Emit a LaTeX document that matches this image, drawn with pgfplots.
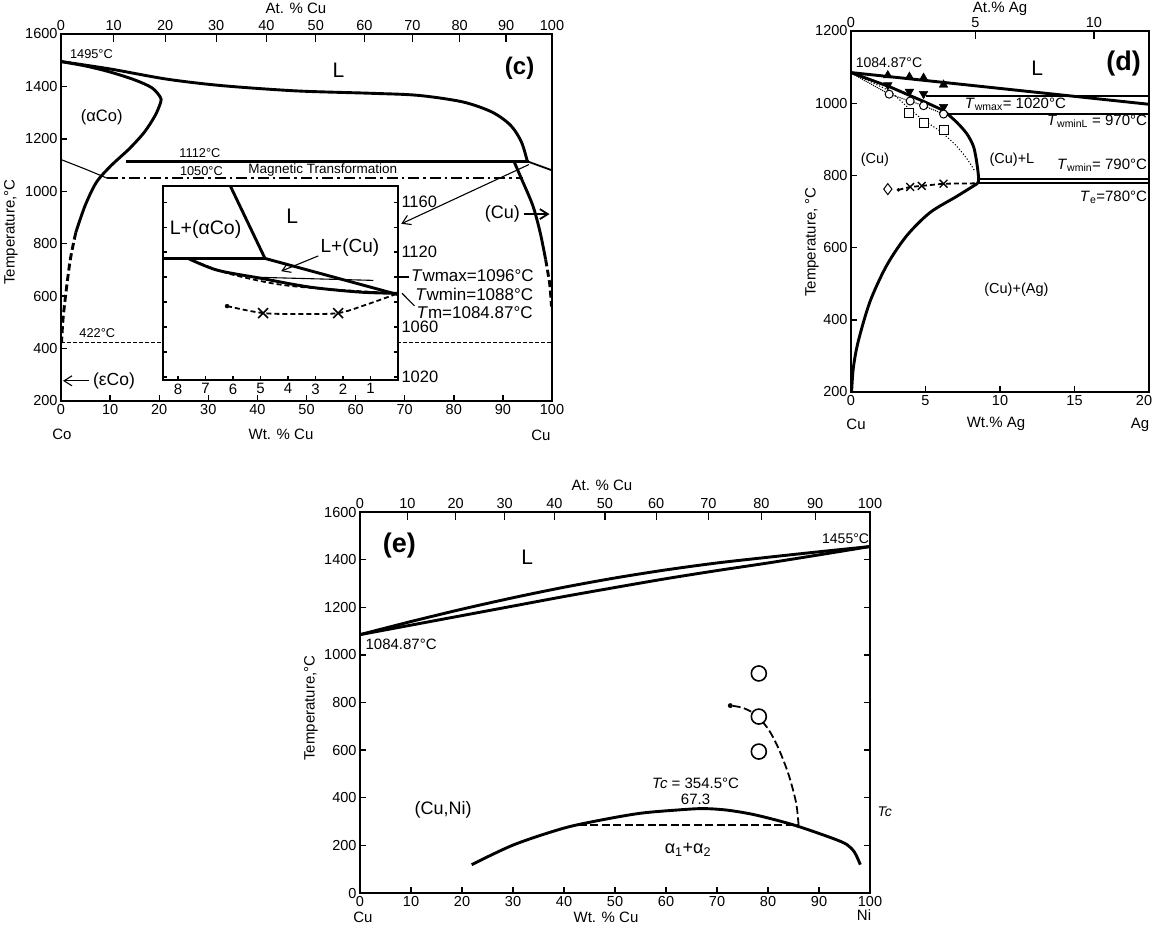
\documentclass[border=0pt]{standalone}
\usepackage{pgfplots}
\pgfplotsset{compat=1.18}
\usepackage{fontspec}
\setmainfont{Liberation Sans}
\usetikzlibrary{arrows.meta}
\newcommand\fs[1]{\fontsize{#1}{#1}\selectfont}

\pgfplotsset{
  phase/.style={
    scale only axis, anchor=south west, clip=false,
    axis line style={line width=2pt},
    tick style={black, line width=1.4pt},
    major tick length=6pt,
    tick align=inside,
    tick label style={font=\fs{14.5}},
    /pgf/number format/assume math mode=true,
    /pgf/number format/1000 sep={},
    xtick pos=bottom, ytick pos=left,
  },
  topscale/.style={
    scale only axis, anchor=south west, clip=false,
    axis x line*=top, hide y axis, ymin=0, ymax=1,
    axis line style={line width=2pt},
    tick style={black, line width=1.4pt},
    major tick length=8pt, tick align=inside,
    tick label style={font=\fs{14.5}},
  },
}
\tikzset{
  thk/.style={line width=2.9pt, line join=round},
  med/.style={line width=1.8pt},
  thn/.style={line width=1.1pt},
  dsh/.style={dash pattern=on 7pt off 3.5pt},
  sdsh/.style={dash pattern=on 5pt off 3pt},
  barb/.style={-{Straight Barb[length=8pt,width=10pt]}},
}

\begin{document}
\begin{tikzpicture}
\useasboundingbox (0pt,0pt) rectangle (1154pt,-932pt);

% ---------------- panel (c): Co-Cu ----------------
\begin{axis}[phase, at={(61pt,-401pt)}, width=491pt, height=367pt,
  xmin=0, xmax=100, ymin=200, ymax=1600,
  xtick={0,10,...,100}, ytick={200,400,...,1600}]
  % liquidus
  \addplot[thk, smooth] coordinates {(0,1495)(10.2,1466)(21.5,1428)(32.8,1403)(47.9,1383)(62.9,1374)(72.7,1366)(81.8,1341)(87.8,1302)(91.6,1251)(93.8,1187)(95.0,1112)};
  % (aCo) boundary
  \addplot[thk, smooth] coordinates {(0,1495)(5,1478)(10,1455)(15,1425)(18.5,1395)(20.2,1360)(20.3,1340)(19.2,1290)(17.0,1226)(13.9,1162)(10.2,1098)(7.2,1034)(4.9,945)(3.0,842)};
  \addplot[thk, dsh, smooth] coordinates {(3.0,842)(1.9,740)(1.0,613)(0.4,510)(0.1,421)};
  % magnetic line in (aCo)
  \addplot[thn, smooth] coordinates {(0,1121)(4.9,1085)(9.4,1050)};
  % peritectic
  \addplot[thk] coordinates {(13.2,1112)(95.3,1112)};
  \addplot[med] coordinates {(95.3,1112)(100,1080)};
  % (Cu) solvus
  \addplot[thk, smooth] coordinates {(92.3,1112)(93.8,1047)(96.1,945)(97.6,842)(98.7,740)};
  \addplot[thk, dsh, smooth] coordinates {(98.7,740)(99.5,651)(99.8,587)(99.9,560)};
  % magnetic transformation 1050
  \addplot[med, dash pattern=on 11pt off 4pt on 2.5pt off 4pt] coordinates {(9.4,1050)(94,1050)};
  % 422
  \addplot[thn, dash pattern=on 4pt off 2pt] coordinates {(0,422)(100,422)};
  \draw[thn, barb] (axis cs:5.7,277) -- (axis cs:0.4,277);
  \node[anchor=west, font=\fs{17.5}] at (axis cs:5.8,277) {(εCo)};
  \node[font=\fs{18}] at (axis cs:89.9,913) {(Cu)};
  \draw[med, barb] (axis cs:94.2,913) -- (axis cs:99.5,913);
  \draw[thn, barb] (axis cs:95.3,1102) -- (axis cs:69.3,876);
  \node[font=\fs{12.8}] at (axis cs:6.2,1522) {1495°C};
  \node[font=\fs{21}] at (axis cs:56.5,1462) {L};
  \node[font=\bfseries\fs{24}] at (axis cs:93.4,1468) {(c)};
  \node[font=\fs{16.5}] at (axis cs:8.3,1283) {(αCo)};
  \node[font=\fs{12.8}] at (axis cs:28.3,1146) {1112°C};
  \node[font=\fs{12.8}] at (axis cs:28.6,1078) {1050°C};
  \node[font=\fs{13.5}] at (axis cs:53.3,1080) {Magnetic Transformation};
  \node[font=\fs{12.8}] at (axis cs:7.4,460) {422°C};
\end{axis}
\begin{axis}[topscale, at={(61pt,-401pt)}, width=491pt, height=367pt,
  xmin=0, xmax=100,
  xtick={0,10.74,21.23,31.61,41.83,51.89,61.80,71.56,81.18,90.66,100},
  xticklabels={0,10,20,30,40,50,60,70,80,90,100}]
  \addplot[draw=none, forget plot] coordinates {(0,0)};
\end{axis}

% inset
\begin{axis}[phase, at={(163pt,-380pt)}, width=235pt, height=194pt,
  x dir=reverse, xmin=0, xmax=8.55, ymin=1017.6, ymax=1173,
  xtick={1,...,8}, ytick={1020,1040,...,1160},
  yticklabels={1020,,1060,,,1120,,1160},
  ytick pos=both, yticklabel pos=right, major tick length=4pt,
  axis background/.style={fill=white},
  yticklabel style={font=\fs{16.5}}, xticklabel style={font=\fs{15}}]
  \addplot[thk] coordinates {(6.1,1173)(4.84,1115)};
  \addplot[thk] coordinates {(8.55,1115)(4.84,1115)};
  \addplot[thk] coordinates {(4.84,1115)(0,1086)};
  \addplot[thk, smooth] coordinates {(7.64,1115)(6.58,1105.6)(5.02,1099.2)(3.2,1092)(1.38,1088)(0,1087)};
  \addplot[thn] coordinates {(5.3,1100)(0.9,1097.4)};
  \addplot[med, sdsh, smooth] coordinates {(7.49,1113.6)(6.22,1103.2)(4.4,1094.4)(2.58,1090.4)(0,1087)};
  \addplot[med, sdsh, smooth] coordinates {(6.22,1076.8)(4.91,1071.2)(3.5,1070.5)(2.18,1071.2)(1.2,1077.6)(0,1087)};
  \addplot[only marks, mark=*, mark size=2pt] coordinates {(6.22,1076.8)};
  \addplot[only marks, mark=x, mark size=7pt, line width=1.6pt] coordinates {(4.91,1071.2)(2.18,1071.2)};
  \node[font=\fs{21}] at (axis cs:3.85,1149) {L};
  \node[font=\fs{19.5}] at (axis cs:7.0,1138) {L+(αCo)};
  \node[font=\fs{19}] at (axis cs:1.75,1123.4) {L+(Cu)};
  \draw[thn, barb] (axis cs:2.9,1117) -- (axis cs:4.25,1104.8);
  \draw[med] (axis cs:-0.05,1100) -- (axis cs:-0.4,1100);
  \draw[thn] (axis cs:-0.15,1087) -- (axis cs:-0.6,1077);
  \node[anchor=west, font=\fs{17}] at (axis cs:-0.35,1101) {\textit{T}wmax=1096°C};
  \node[anchor=west, font=\fs{17}] at (axis cs:-0.5,1086.5) {\textit{T}wmin=1088°C};
  \node[anchor=west, font=\fs{17}] at (axis cs:-0.55,1071.5) {\textit{T}m=1084.87°C};
\end{axis}

% ---------------- panel (d): Cu-Ag ----------------
\begin{axis}[phase, at={(851pt,-392pt)}, width=298pt, height=361pt,
  xmin=0, xmax=20, ymin=200, ymax=1200,
  xtick={0,5,...,20}, xticklabels={0,5,10,15,\hspace*{-10pt}20},
  ytick={200,400,...,1200}]
  \addplot[thk] coordinates {(0,1084.87)(20,997)};
  \addplot[med] coordinates {(5.0,1020)(20,1020)};
  \addplot[med] coordinates {(6.2,970)(20,970)};
  \addplot[med] coordinates {(8.5,790)(20,790)};
  \addplot[med] coordinates {(8.5,780)(20,780)};
  \addplot[thk] coordinates {(0,1084.87)(2.62,1045)(4.87,1005)(6.21,980)};
  \addplot[thk, smooth] coordinates {(6.21,980)(7.1,947)(7.78,915)(8.23,879)(8.45,833)(8.57,790)(8.5,778)};
  \addplot[thk, smooth] coordinates {(8.5,778)(7.1,742)(5.3,697)(3.74,633)(2.4,551)(1.28,451)(0.49,341)(0.16,268)(0.04,200)};
  \addplot[thn, dotted, smooth] coordinates {(0,1084)(2.5,1035)(3.9,985)(4.9,952)(5.9,925)(7.0,885)(7.8,845)(8.3,812)};
  \addplot[thn, densely dotted] coordinates {(0,1084)(2.56,1025)(3.97,1006)(4.87,993)(6.21,970)};
  \addplot[med, sdsh] coordinates {(3.18,760)(3.97,768)(4.75,771)(6.21,777)(8.45,778)};
  \addplot[only marks, mark=*, mark size=1.6pt] coordinates {(3.18,760)};
  \addplot[only marks, mark=triangle*, mark size=5pt] coordinates {(2.47,1077)(3.92,1073)(4.87,1070)(6.21,1051)};
  \addplot[only marks, mark=triangle*, mark size=5pt, mark options={rotate=180}] coordinates {(2.47,1050)(3.92,1032)(4.87,1026)(6.21,990)};
  \addplot[only marks, mark=*, mark size=4pt, mark options={fill=white, line width=1pt}] coordinates {(2.56,1025)(3.97,1006)(4.87,993)(6.21,970)};
  \addplot[only marks, mark=square*, mark size=4.5pt, mark options={fill=white, line width=1.1pt}] coordinates {(3.92,974)(4.87,946)(6.26,926)};
  \addplot[only marks, mark=diamond, mark size=5.5pt, mark options={line width=1pt}] coordinates {(2.47,762)};
  \addplot[only marks, mark=x, mark size=5.5pt, line width=1.3pt] coordinates {(3.97,768)(4.75,771)(6.21,777)};
  \node[font=\fs{14}] at (axis cs:2.55,1111) {1084.87°C};
  \node[font=\fs{21}] at (axis cs:12.5,1097) {L};
  \node[font=\bfseries\fs{27}] at (axis cs:18.3,1111) {(d)};
  \node[anchor=west, font=\fs{15}] at (axis cs:7.4,996) {\textit{T}\textsubscript{wmax}= 1020°C};
  \node[anchor=east, font=\fs{15}] at (axis cs:20.1,950) {\textit{T}\textsubscript{wminL} = 970°C};
  \node[font=\fs{14.5}] at (axis cs:1.6,842) {(Cu)};
  \node[font=\fs{14.5}] at (axis cs:10.8,842) {(Cu)+L};
  \node[anchor=east, font=\fs{15}] at (axis cs:20.1,828) {\textit{T}\textsubscript{wmin}= 790°C};
  \node[anchor=east, font=\fs{15}] at (axis cs:20.1,740) {\textit{T}\textsubscript{e}=780°C};
  \node[font=\fs{14.5}] at (axis cs:11.1,482) {(Cu)+(Ag)};
\end{axis}
\begin{axis}[topscale, at={(851pt,-392pt)}, width=298pt, height=361pt,
  xmin=0, xmax=20, xtick={0,8.35,16.3}, xticklabels={0,5,10}]
  \addplot[draw=none, forget plot] coordinates {(0,0)};
\end{axis}

% ---------------- panel (e): Cu-Ni ----------------
\begin{axis}[phase, at={(360pt,-893pt)}, width=510pt, height=381pt,
  xmin=0, xmax=100, ymin=0, ymax=1600,
  xtick={0,10,...,100}, ytick={0,200,...,1600}, ytick pos=both]
  \addplot[thk, smooth] coordinates {(0,1085)(10,1140)(20,1192)(30,1240)(40,1284)(50,1323)(60,1357)(70,1386)(80,1410)(90,1433)(100,1455)};
  \addplot[thk, smooth] coordinates {(0,1085)(10,1125)(20,1165)(30,1205)(40,1245)(50,1283)(60,1320)(70,1354)(80,1386)(90,1420)(100,1455)};
  \addplot[thk, smooth] coordinates {(21.9,119)(30.2,203)(39.9,272)(47.4,307)(55,335)(62.5,349)(67.3,354.5)(72,348)(77.5,328)(85,286)(92.5,231)(95.5,203)(97,170)(98.1,119)};
  \addplot[med, dash pattern=on 8pt off 3.5pt] coordinates {(42.9,284)(86,284)};
  \addplot[med, dash pattern=on 8pt off 3.5pt, smooth] coordinates {(86,284)(85.5,380)(84,500)(82,610)(80,690)(77.5,750)(75,778)(72.6,787)};
  \addplot[only marks, mark=*, mark size=2.2pt] coordinates {(72.6,787)};
  \addplot[only marks, mark=*, mark size=7.5pt, mark options={fill=white, line width=1.6pt}] coordinates {(78.2,922)(78.2,741)(78.2,594)};
  \node[font=\bfseries\fs{27}] at (axis cs:7.7,1460) {(e)};
  \node[font=\fs{21}] at (axis cs:32.8,1411) {L};
  \node[anchor=east, font=\fs{14}] at (axis cs:100.5,1490) {1455°C};
  \node[anchor=west, font=\fs{15}] at (axis cs:0.4,1046) {1084.87°C};
  \node[font=\fs{15}] at (axis cs:65.8,462) {\textit{Tc} = 354.5°C};
  \node[font=\fs{15}] at (axis cs:65.8,392) {67.3};
  \node[font=\fs{18}] at (axis cs:16.3,349) {(Cu,Ni)};
  \node[font=\fs{18}] at (axis cs:64.3,182) {α\textsubscript{1}+α\textsubscript{2}};
  \node[anchor=west, font=\fs{14}] at (axis cs:100.8,342) {\textit{Tc}};
\end{axis}
\begin{axis}[topscale, at={(360pt,-893pt)}, width=510pt, height=381pt,
  xmin=0, xmax=100,
  xtick={0,9.31,18.76,28.36,38.11,48.01,58.08,68.30,78.69,89.26,100},
  xticklabels={0,10,20,30,40,50,60,70,80,90,100}]
  \addplot[draw=none, forget plot] coordinates {(0,0)};
\end{axis}

% axis titles and end labels
\begin{scope}[every node/.style={font=\fs{15}}]
  \node[rotate=90] at (11pt,-232pt) {Temperature,°C};
  \node at (296pt,-8pt) {At. \% Cu};
  \node at (281pt,-434pt) {Wt. \% Cu};
  \node at (62pt,-434pt) {Co};
  \node at (541pt,-435pt) {Cu};
  \node[rotate=90] at (812pt,-242pt) {Temperature, °C};
  \node at (1000pt,-9pt) {At.\% Ag};
  \node at (996pt,-424pt) {Wt.\% Ag};
  \node at (856pt,-424pt) {Cu};
  \node at (1140pt,-425pt) {Ag};
  \node[rotate=90] at (311pt,-708pt) {Temperature,°C};
  \node at (602pt,-485pt) {At. \% Cu};
  \node at (606pt,-917pt) {Wt. \% Cu};
  \node at (363pt,-917pt) {Cu};
  \node at (864pt,-915pt) {Ni};
\end{scope}
\end{tikzpicture}
\end{document}
